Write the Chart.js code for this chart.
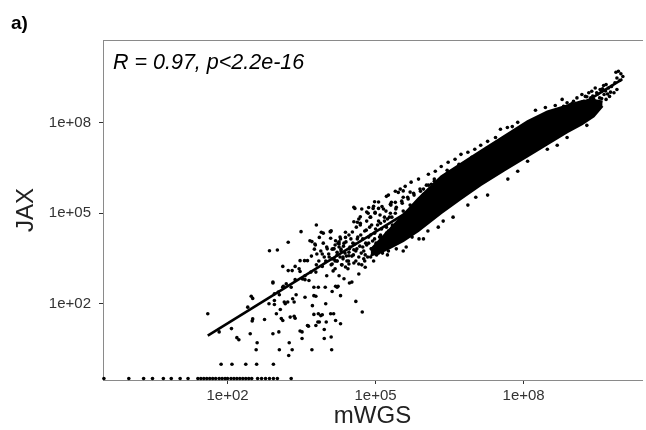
<!DOCTYPE html>
<html>
<head>
<meta charset="utf-8">
<script src="https://cdn.jsdelivr.net/npm/chart.js@4.4.0/dist/chart.umd.min.js"></script>
<style>
  html, body { margin: 0; padding: 0; background: #fff; }
</style>
</head>
<body>
<canvas id="jaxChart" width="646" height="430"></canvas>
<script>
// all values are log10 counts: [mWGS, JAX]
const panelLabel = "a)";
const statsLabel = "R = 0.97, p<2.2e-16";
const xTitle = "mWGS";
const yTitle = "JAX";
const xTickValues = [1e2, 1e5, 1e8];
const xTickLabels = ["1e+02", "1e+05", "1e+08"];
const yTickValues = [1e2, 1e5, 1e8];
const yTickLabels = ["1e+02", "1e+05", "1e+08"];

// axis limits (ggplot puts log10(0) = -Inf on the panel edge)
const X_MIN = 0.313, X_MAX = 2.5e10;
const Y_MIN = 0.336, Y_MAX = 5.46e10;

// samples with JAX = 0 (first one also has mWGS = 0)
const zeroJaxMwgsLog = [-Infinity, 0.00, 0.30, 0.48, 0.70, 0.86, 1.04, 1.20, 1.40, 1.46, 1.52,
  1.58, 1.64, 1.70, 1.76, 1.83, 1.89, 1.95, 2.00, 2.07, 2.13, 2.19, 2.25, 2.31, 2.37, 2.43,
  2.49, 2.61, 2.69, 2.77, 2.85, 2.93, 3.01, 3.29];

// sparse low-abundance points
const sparsePoints = [
  [1.87,0],[2.09,0],[2.37,0],[2.59,0],[2.93,0],
  [1.60,1.67],[1.83,1.07],[2.08,1.18],[2.19,0.88],[2.23,0.81],[2.48,2.25],[2.51,2.18],[2.41,1.89],
  [2.50,1.43],[2.46,1.01],[2.60,0.71],[2.58,0.48],[2.75,1.48],[2.84,2.00],[2.92,2.69],[2.95,2.11],
  [2.95,1.98],[2.99,1.67],[3.03,2.39],[3.05,2.30],[3.12,1.45],[3.17,2.00],[3.22,2.06],[2.92,1.01],
  [3.04,1.07],[3.05,0.48],[3.25,0.71],[3.31,0.48],[3.24,0.29],[3.35,1.59],[3.37,1.52],[3.32,2.17],
  [3.39,2.30],[3.47,1.10],[3.51,1.07],[3.51,0.85],[3.64,1.26],[3.71,0.48],[3.75,1.65],[3.75,2.27],
  [3.86,1.40],[3.92,1.64],[3.96,1.15],[3.96,0.85],[3.99,2.00],[4.09,1.67],[4.10,0.90],[4.11,0.48],
  [4.29,1.34],[4.29,2.27],[4.19,2.58],[4.24,2.58],[3.75,2.55],[3.84,2.55],[3.98,2.55],[3.57,2.80],
  [3.65,2.77],[3.19,2.66],[3.13,2.58],[4.47,2.69],[4.60,2.08],[4.73,1.73],[2.85,3.76],[3.01,3.78],
  [2.95,2.33],[3.07,1.81],[3.12,3.24],[3.23,4.04],[3.23,3.10],[3.31,3.10],[3.27,1.56],[3.29,2.55],
  [3.37,2.80],[3.37,3.24],[3.47,3.43],[3.56,3.43],[3.62,3.43],[3.49,4.39],[3.52,2.82],[3.57,2.22],
  [3.62,1.28],[3.67,4.09],[3.71,4.06],[3.78,3.95],[3.80,4.61],[3.86,4.20],[3.90,4.37],[3.92,3.24],
  [3.79,3.05],[3.84,1.67],[3.83,1.40],[4.01,2.93],[4.08,4.39],[4.09,4.17],[4.22,2.55],[3.47,3.07],
  [2.92,2.72],[3.12,2.55],[3.79,2.25],[3.35,2.06],[3.15,2.06],[2.51,1.50],[3.09,1.51],[3.72,1.94],
  [3.89,1.61],[4.15,1.67],[4.12,2.41],[3.79,1.28],[4.00,1.40],[4.19,1.45]
];

// where the cloud starts to thicken (1e4 - 1e6)
const cloudPoints = [
  [3.76,3.81],[3.81,3.65],[3.89,3.75],[3.96,3.55],[4.01,3.88],[4.05,3.65],[4.12,3.81],[4.18,3.95],
  [4.16,3.48],[4.22,3.71],[3.99,3.42],[3.85,3.42],[3.70,3.58],[3.94,4.01],[4.26,4.05],[4.30,3.81],
  [4.12,3.32],[3.80,3.29],[4.22,3.42],[4.34,3.55],
  [4.06,3.55],[4.10,3.29],[4.14,3.82],[4.18,3.16],[4.22,3.42],[4.26,3.88],[4.28,3.55],[4.32,3.29],
  [4.36,4.01],[4.38,3.68],[4.42,3.42],[4.44,3.16],[4.48,3.88],[4.50,4.15],[4.52,3.58],[4.56,3.35],
  [4.58,3.98],[4.60,3.75],[4.64,4.21],[4.66,3.55],[4.68,3.91],[4.72,3.29],[4.74,4.15],[4.76,3.75],
  [4.78,4.41],[4.82,3.95],[4.84,3.55],[4.86,4.21],[4.88,4.54],[4.92,3.82],[4.94,4.08],[4.96,3.42],
  [4.98,4.34],[5.02,3.95],[5.04,4.61],[5.06,3.68],[5.08,4.21],[5.12,4.48],[5.14,3.88],[5.18,4.74],
  [5.20,4.15],[5.24,3.62],[5.26,4.41],[5.28,4.87],[5.32,3.98],[5.34,4.61],[5.38,4.21],[5.40,5.00],
  [5.42,3.82],[5.44,4.48],[5.48,4.74],[5.52,4.15],[5.56,5.07],[5.58,4.41],[5.62,3.88],[5.66,4.61],
  [5.70,5.27],[5.74,4.21],[5.78,4.87],[5.82,4.48],[5.88,4.15],[5.94,4.74],[6.00,5.47],[6.06,4.41],
  [4.46,3.32],[4.26,2.93],[4.36,2.83],[4.52,2.72],[4.66,2.99],[4.79,3.21],[4.46,3.59],[4.56,3.79],
  [4.76,3.49],[4.12,3.49],[4.19,4.09],[4.29,4.15],[4.39,4.37],[4.02,3.82],[3.92,3.65],[3.45,3.16],
  [3.57,2.93],[3.69,3.05],[3.94,4.34],[4.09,4.39],[3.77,3.98],[4.58,5.16],[4.69,4.88],[4.56,4.72],
  [4.63,4.70],[4.69,4.67],[4.86,5.19],[4.95,5.16],[5.06,5.16],[4.85,5.00],[4.99,5.03],[4.98,5.38],
  [5.13,5.22],[5.26,5.60],[5.32,5.36],[5.40,5.36],[5.46,5.69],[5.56,5.74],[4.10,4.42],[4.26,3.98],
  [4.39,4.20],[4.46,3.71],
  [4.16,3.82],[4.18,3.42],[4.14,3.09],[4.22,3.62],[4.24,4.01],[4.30,3.75],[4.31,3.29],[4.28,4.21],
  [4.34,3.49],[4.35,3.91],[4.40,4.05],[4.41,3.58],[4.39,3.22],[4.46,4.28],[4.47,3.82],[4.45,3.42],
  [4.54,4.01],[4.55,3.62],[4.53,4.38],[4.62,3.82],[4.61,4.54],[4.63,4.15],[4.60,3.42],[4.70,4.28],
  [4.71,3.68],[4.69,4.61],[4.80,4.01],[4.81,4.44],[4.79,3.62],[4.82,4.74],[4.90,4.28],[4.91,3.82],
  [4.89,4.87],[4.92,4.61],[5.00,4.48],[5.01,4.01],[4.99,5.00],[5.02,3.68],[5.10,4.67],[5.11,4.21],
  [5.09,4.94],[5.12,3.88],[5.22,4.54],[5.21,5.07],[5.23,4.01],[5.24,4.81],[5.32,4.28],[5.31,5.27],
  [5.33,4.87],[5.42,4.54],[5.41,5.14],[5.43,4.01],[5.54,4.74],[5.55,4.28],[5.53,5.40],[5.66,4.94],
  [5.67,4.41],[5.65,5.53],[5.78,5.14],[5.79,4.61],[5.77,5.66],[5.91,5.33],[5.90,5.80],[5.92,4.74],
  [4.66,3.32],[4.78,3.42],[4.90,3.55],[5.02,3.62],[5.14,3.68],[5.26,3.75],[4.74,3.88],[4.86,4.01],
  [4.98,4.15],[5.10,4.28],[5.22,4.34],[5.34,4.54],[5.46,4.67],
  [5.06,4.74],[5.18,4.87],[5.30,5.00],[5.42,5.20],[5.54,5.33],[5.66,5.47],[5.78,5.60],[5.91,5.73],
  [6.07,5.93],[6.19,6.06]
];

// loose points above and below the main band
const fringePoints = [
  [4.56,5.20],[4.72,5.14],[4.82,5.04],[4.96,5.23],[5.06,5.37],[5.22,5.56],[5.40,5.73],[5.50,5.80],
  [5.60,5.89],[5.72,6.03],[5.87,6.13],[6.07,6.29],[6.21,6.39],[6.33,6.55],[6.47,6.69],[6.61,6.79],
  [6.73,6.95],[6.87,7.02],[7.01,7.12],[7.13,7.25],[7.27,7.38],[7.43,7.51],[7.53,7.78],[7.67,7.84],
  [7.77,7.87],[7.88,8.01],
  [4.66,4.81],[4.90,4.87],[5.16,5.14],[5.30,5.30],[5.56,5.53],[5.70,5.70],[5.97,5.80],[6.13,5.96],
  [6.27,6.06],[6.43,6.29],[6.57,6.39],[6.83,6.62],[6.97,6.79],[7.23,6.95],[7.37,7.12],[7.57,7.28],
  [7.71,7.45],[7.88,7.61],[8.04,7.78],[8.18,7.94],[8.38,8.11],[8.58,8.27],[8.44,8.50],[8.64,8.57],
  [8.78,8.77],
  [5.97,5.63],[6.11,5.80],[6.23,5.93],[6.39,6.13],[6.51,6.26],[6.63,6.39],[6.79,6.52],[6.91,6.69],
  [7.03,6.79],[7.19,6.95],[7.35,7.12],[7.47,7.25],[7.67,7.41],[7.83,7.58],[8.00,7.74],[8.20,7.94],
  [8.36,8.14],[8.52,8.27],[8.72,8.44],[8.98,8.63],[9.28,8.86],[6.03,5.93],[6.19,6.13],[6.45,6.42],
  [6.69,6.62],[6.95,6.85],[7.25,7.15],[7.53,7.41],[7.75,7.64],[7.96,7.84],[8.28,8.11],
  [5.56,3.75],[5.97,4.15],[6.27,4.54],[6.57,4.87],[6.87,5.27],[7.27,5.60],[7.68,6.13],[8.08,6.72],
  [8.48,7.12],[8.88,7.51],[9.28,7.91],[6.37,4.74],[7.03,5.53],[7.88,6.39],[8.68,7.25]
];

// high-abundance end of the cloud
const tipPoints = [
  [9.87,9.67],[9.92,9.70],[9.97,9.62],[10.01,9.53],[9.89,9.48],[9.95,9.40],[9.85,9.32],[9.78,9.20],
  [9.89,9.10],[9.83,8.99],[9.76,9.01],[9.72,9.15],[9.67,9.26],[9.62,9.23],[9.55,9.10],[9.48,8.99],
  [9.58,9.04],[9.63,8.93],[9.54,8.82],[9.45,9.15],[9.38,9.04],[9.32,8.99],[9.25,8.87],[9.18,8.93],
  [9.42,8.77],[9.35,8.66],[9.22,8.71],[9.08,8.82],[9.01,8.71],[8.95,8.60],[8.88,8.66],[8.81,8.54],
  [8.24,8.41],[9.67,8.77],[9.74,8.87],[9.22,8.16],[9.42,8.43],[9.52,8.60],
  [9.30,8.72],[9.40,8.88],[9.50,8.95],[9.58,8.80],[9.66,9.05],[9.70,8.95],[9.60,9.12],[9.36,8.82]
];

// solid overplotted core of the cloud: lower and upper edge
const coreMwgsLog = [4.90, 5.10, 5.30, 5.56, 5.87, 6.33, 6.73, 7.13, 7.61, 8.08, 8.48, 8.88, 9.18, 9.42, 9.60];
const coreJaxLowLog = [3.60, 3.70, 3.85, 4.08, 4.41, 5.00, 5.47, 5.93, 6.42, 6.88, 7.28, 7.68, 7.94, 8.20, 8.55];
const coreJaxHighLog = [3.80, 4.15, 4.50, 4.95, 5.50, 6.22, 6.64, 7.07, 7.56, 8.05, 8.37, 8.57, 8.72, 8.75, 8.70];

// linear fit on the log scale
const fitMwgsLog = [1.60, 10.00];
const fitJaxLog = [0.95, 9.44];

function fromLog(v, floor) {
  return v === -Infinity ? floor : Math.pow(10, v);
}
function pairsToPoints(pairs) {
  return pairs.map(p => ({ x: fromLog(p[0], X_MIN), y: fromLog(p[1], Y_MIN) }));
}
function arraysToPoints(xs, ys) {
  return xs.map((v, i) => ({ x: fromLog(v, X_MIN), y: fromLog(ys[i], Y_MIN) }));
}

const allPoints = [
  ...zeroJaxMwgsLog.map(v => ({ x: fromLog(v, X_MIN), y: Y_MIN })),
  ...pairsToPoints(sparsePoints),
  ...pairsToPoints(cloudPoints),
  ...pairsToPoints(fringePoints),
  ...pairsToPoints(tipPoints),
];

// "a)" and the correlation text
const panelText = {
  id: "panelText",
  afterDraw(chart) {
    const { ctx, chartArea } = chart;
    ctx.save();
    ctx.fillStyle = "#000";
    ctx.textBaseline = "alphabetic";
    ctx.textAlign = "left";
    ctx.font = 'bold 19px "Liberation Sans", Arial, sans-serif';
    ctx.fillText(panelLabel, 11, 29);
    ctx.font = 'italic 21.5px "Liberation Sans", Arial, sans-serif';
    ctx.fillText(statsLabel, chartArea.left + 10, chartArea.top + 28.5);
    ctx.restore();
  },
};

Chart.defaults.font.family = '"Liberation Sans", Arial, sans-serif';

const ctx = document.getElementById("jaxChart").getContext("2d");
new Chart(ctx, {
  type: "line",
  data: {
    datasets: [
      {
        data: arraysToPoints(coreMwgsLog, coreJaxLowLog),
        borderColor: "#000",
        borderWidth: 2,
        pointRadius: 0,
        fill: false,
        order: 3,
      },
      {
        data: arraysToPoints(coreMwgsLog, coreJaxHighLog),
        borderColor: "#000",
        backgroundColor: "#000",
        borderWidth: 2,
        pointRadius: 0,
        fill: "-1",
        order: 3,
      },
      {
        data: allPoints,
        showLine: false,
        pointRadius: 1.8,
        pointBackgroundColor: "#000",
        pointBorderWidth: 0,
        clip: false,
        order: 2,
      },
      {
        data: arraysToPoints(fitMwgsLog, fitJaxLog),
        borderColor: "#000",
        borderWidth: 2.6,
        pointRadius: 0,
        fill: false,
        order: 1,
      },
    ],
  },
  options: {
    responsive: false,
    animation: false,
    events: [],
    layout: { padding: { top: 40, right: 0, bottom: 0, left: 0 } },
    plugins: {
      legend: { display: false },
      tooltip: { enabled: false },
    },
    scales: {
      x: {
        type: "logarithmic",
        position: "bottom",
        min: X_MIN,
        max: X_MAX,
        afterBuildTicks: (scale) => {
          scale.ticks = xTickValues.map(v => ({ value: v }));
        },
        afterFit: (scale) => { scale.height = 50; },
        ticks: {
          callback: (value, index) => xTickLabels[index],
          color: "#333",
          font: { size: 15 },
          padding: 3,
          maxRotation: 0,
          autoSkip: false,
        },
        grid: { drawOnChartArea: false, drawTicks: true, tickLength: 4, color: "#333" },
        border: { display: true, color: "#8a8a8a", width: 1 },
        title: {
          display: true,
          text: xTitle,
          color: "#222",
          font: { size: 24, lineHeight: 1 },
          padding: { top: 0, bottom: 2 },
        },
      },
      xTop: {
        type: "linear",
        position: "top",
        afterFit: (scale) => { scale.height = 0; },
        ticks: { display: false },
        grid: { display: false },
        border: { display: true, color: "#8a8a8a", width: 1 },
      },
      y: {
        type: "logarithmic",
        position: "left",
        min: Y_MIN,
        max: Y_MAX,
        afterBuildTicks: (scale) => {
          scale.ticks = yTickValues.map(v => ({ value: v }));
        },
        afterFit: (scale) => { scale.width = 103; },
        ticks: {
          callback: (value, index) => yTickLabels[index],
          color: "#333",
          font: { size: 15 },
          padding: 8,
          autoSkip: false,
        },
        grid: { drawOnChartArea: false, drawTicks: true, tickLength: 4, color: "#333" },
        border: { display: true, color: "#8a8a8a", width: 1 },
        title: {
          display: true,
          text: yTitle,
          color: "#222",
          font: { size: 24, lineHeight: 1 },
          padding: { top: 14, bottom: 0 },
        },
      },
    },
  },
  plugins: [panelText],
});
</script>
</body>
</html>
